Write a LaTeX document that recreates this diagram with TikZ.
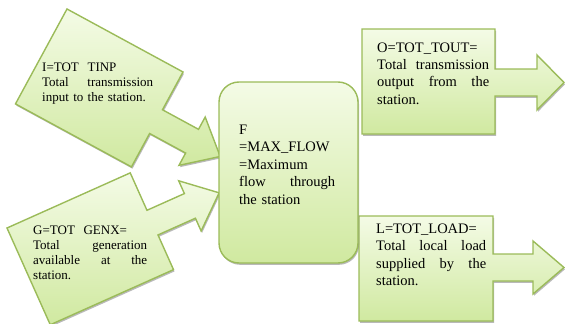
\documentclass[tikz,border=0pt]{standalone}
\usepackage{fontspec}
\setmainfont{Liberation Serif}
\usetikzlibrary{shadows}
\definecolor{boxfilltop}{HTML}{F4FBE6}
\definecolor{boxfillbottom}{HTML}{D0E9A0}
\definecolor{boxstroke}{HTML}{9BBB59}
\tikzset{
  callout/.style={
    draw=boxstroke,
    top color=boxfilltop,
    bottom color=boxfillbottom,
    line width=1.4pt,
    drop shadow={shadow xshift=1pt,shadow yshift=-1.8pt,
      fill=black!50,opacity=0.55}
  },
  flowbox/.style={
    callout,
    rectangle,
    rounded corners=20pt,
    minimum width=139pt,
    minimum height=181pt,
    inner sep=0pt
  },
  smalltext/.style={
    anchor=base west,
    inner sep=0pt,
    align=left,
    font=\fontsize{13}{15}\selectfont
  },
  bigtext/.style={
    anchor=base west,
    inner sep=0pt,
    align=left,
    font=\fontsize{14.5}{17.5}\selectfont
  }
}

\begin{document}
\begin{tikzpicture}[x=1pt,y=-1pt]
  \useasboundingbox (0,0) rectangle (565,324);

  % Incoming callouts, tilted towards the station.
  \begin{scope}[shift={(67,9)},rotate=-28.5]
    \path[callout] (0,0) -- (132,0) -- (132,43) -- (173,43) -- (173,29)
      -- (205,56.5) -- (173,84) -- (173,70) -- (132,70) -- (132,108)
      -- (0,108) -- cycle;
  \end{scope}
  \begin{scope}[shift={(7,228)},rotate=24.1]
    \path[callout] (0,0) -- (135,0) -- (135,41) -- (176,41) -- (176,27)
      -- (208,54.5) -- (176,82) -- (176,68) -- (135,68) -- (135,106)
      -- (0,106) -- cycle;
  \end{scope}

  % Outgoing callouts.
  \path[callout] (362,29) -- (495,29) -- (495,69) -- (537,69) -- (537,55)
    -- (564,82.5) -- (537,110) -- (537,96) -- (495,96) -- (495,134)
    -- (362,134) -- cycle;
  \path[callout] (359,216) -- (493,216) -- (493,254) -- (533,254) -- (533,241)
    -- (564,267.5) -- (533,294) -- (533,281) -- (493,281) -- (493,321)
    -- (359,321) -- cycle;

  % The station itself.
  \node[flowbox] (station) at (288.5,172.5) {};

  \node[smalltext,text width=111pt] (inputtext) at (42,71)
    {I=TOT\ \ TINP\\ Total\hfill transmission\\ input to the station.};
  \node[smalltext,text width=114pt] (gentext) at (33,234)
    {G=TOT\ \ GENX=\\ Total\hfill generation\\ available\hfill at\hfill the\\ station.};
  \node[bigtext,text width=96pt] (flowtext) at (239,134)
    {F\\ =MAX\_FLOW\\ =Maximum\\ flow\hfill through\\ the station};
  \node[bigtext,text width=112pt] (outtext) at (377,52)
    {O=TOT\_TOUT=\\ Total\hfill transmission\\ output\hfill from\hfill the\\ station.};
  \node[bigtext,text width=110pt] (loadtext) at (376,233)
    {L=TOT\_LOAD=\\ Total\hfill local\hfill load\\ supplied\hfill by\hfill the\\ station.};
\end{tikzpicture}
\end{document}
